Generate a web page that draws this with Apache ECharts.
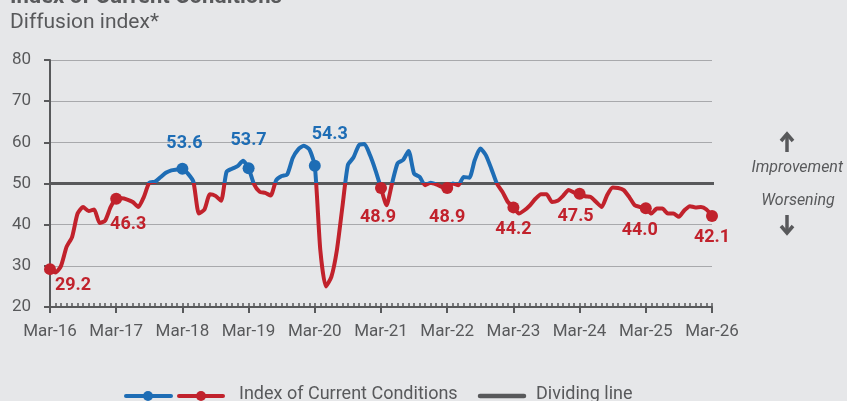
<!DOCTYPE html>
<html>
<head>
<meta charset="utf-8">
<script src="https://cdn.jsdelivr.net/npm/echarts@6/dist/echarts.min.js"></script>
<style>
  html, body { margin: 0; padding: 0; background: #e6e7e9; }
  #main { width: 847px; height: 401px; }
</style>
</head>
<body>
<div id="main"></div>
<script>
// monthly index, Mar-16 .. Mar-26
var indexValues = [
  29.2, 28.4, 30.0, 34.6, 37.0, 42.7, 44.3, 43.3, 43.7, 40.4, 41.0, 44.3,
  46.3, 46.4, 46.1, 45.5, 44.3, 46.7, 50.2, 50.4, 51.5, 52.6, 53.2, 53.4,
  53.6, 52.4, 50.4, 42.7, 43.7, 47.4, 47.0, 45.8, 52.8, 53.6, 54.2, 55.5,
  53.7, 49.8, 48.0, 47.7, 47.1, 50.8, 51.8, 52.2, 56.2, 58.3, 59.2, 58.3,
  54.3, 33.8, 25.0, 27.3, 33.8, 44.3, 54.5, 56.3, 59.3, 59.6, 56.9, 53.2,
  48.9, 44.7, 50.0, 54.9, 55.7, 57.9, 52.4, 51.6, 49.6, 50.2, 49.8, 49.2,
  48.9, 50.0, 49.6, 51.6, 51.4, 55.7, 58.5, 56.9, 53.6, 50.0, 48.0, 45.5,
  44.2, 42.7, 43.5, 44.7, 46.3, 47.4, 47.4, 45.5, 45.8, 47.0, 48.4, 47.8,
  47.5, 46.9, 46.7, 45.5, 44.3, 47.2, 49.0, 48.9, 48.4, 46.7, 44.7, 44.3,
  44.0, 42.7, 43.9, 43.9, 42.7, 42.7, 41.9, 43.5, 44.5, 44.2, 44.3, 43.7,
  42.1
];
var tickLabels = ['Mar-16', 'Mar-17', 'Mar-18', 'Mar-19', 'Mar-20', 'Mar-21',
  'Mar-22', 'Mar-23', 'Mar-24', 'Mar-25', 'Mar-26'];
var labelledMonths = [0, 12, 24, 36, 48, 60, 72, 84, 96, 108, 120];
var dividingValue = 50;

var BLUE = '#1e6db5';
var RED = '#c1222c';
var GREY = '#58595b';
var FONT = 'Roboto, "Noto Sans", sans-serif';

// label offsets (px) relative to the marker
var labelOffset = {
  0: [23, 16], 12: [12, 26], 24: [2, -25], 36: [0, -28], 48: [15, -31],
  60: [-3, 29], 72: [0, 29], 84: [0, 22], 96: [-4, 23], 108: [-6, 22], 120: [0, 21]
};
var dividerEnd = 138.7; // months, runs past the plot to the right

var seriesData = indexValues.map(function (v, i) {
  if (labelledMonths.indexOf(i) < 0) {
    return { value: [i, v], symbol: 'none' };
  }
  var c = v >= dividingValue ? BLUE : RED;
  return {
    value: [i, v],
    symbol: 'circle',
    symbolSize: 12,
    itemStyle: { color: c },
    label: {
      show: true,
      position: 'inside',
      offset: labelOffset[i],
      formatter: v.toFixed(1),
      color: c,
      fontWeight: 'bold',
      fontSize: 18,
      fontFamily: FONT
    }
  };
});

var chart = echarts.init(document.getElementById('main'));

var option = {
  backgroundColor: '#e6e7e9',
  animation: false,
  textStyle: { fontFamily: FONT },
  grid: { left: 50, right: 135, top: 60, bottom: 94 },
  xAxis: [
    {
      type: 'value', min: 0, max: 120, interval: 12,
      axisLine: { lineStyle: { color: GREY, width: 2 } },
      axisTick: { length: 6, lineStyle: { color: GREY, width: 2 } },
      axisLabel: {
        color: GREY, fontSize: 17, margin: 16,
        formatter: function (v) { return tickLabels[v / 12]; }
      },
      splitLine: { show: false }
    },
    {
      type: 'value', min: 0, max: 120, interval: 1, position: 'bottom',
      axisLine: { show: false },
      axisTick: { inside: true, length: 4, lineStyle: { color: GREY, width: 1.5 } },
      axisLabel: { show: false },
      splitLine: { show: false }
    }
  ],
  yAxis: {
    type: 'value', min: 20, max: 80, interval: 10,
    axisLine: { show: true, lineStyle: { color: GREY, width: 2 } },
    axisTick: { show: true, length: 6, lineStyle: { color: GREY, width: 2 } },
    axisLabel: { color: GREY, fontSize: 17, margin: 19 },
    splitLine: { lineStyle: { color: '#a8a9ac', width: 1 } }
  },
  visualMap: {
    type: 'piecewise', show: false, seriesIndex: 0, dimension: 1,
    pieces: [
      { gte: 0, lt: dividingValue, color: RED },
      { gte: dividingValue, lte: 100, color: BLUE }
    ]
  },
  series: [
    {
      name: 'Index of Current Conditions',
      type: 'line',
      data: seriesData,
      symbol: 'circle',
      showAllSymbol: true,
      smooth: 0.2,
      clip: false,
      z: 3,
      lineStyle: { width: 4, cap: 'round', join: 'round' }
    },
    {
      name: 'Dividing line',
      type: 'line',
      data: [[0, dividingValue], [dividerEnd, dividingValue]],
      symbol: 'none',
      clip: false,
      z: 2,
      lineStyle: { color: GREY, width: 3 }
    }
  ],
  graphic: [
    {
      type: 'text', left: 10, top: -14,
      style: { text: 'Index of Current Conditions', fill: GREY, font: 'bold 22px ' + FONT }
    },
    {
      type: 'text', left: 10, top: 12,
      style: { text: 'Diffusion index*', fill: GREY, font: '21px ' + FONT }
    },
    // arrows and annotations on the right
    {
      type: 'polyline', shape: { points: [[787, 152], [787, 136]] },
      style: { stroke: GREY, lineWidth: 3.5, fill: null }
    },
    {
      type: 'polyline', shape: { points: [[781, 141], [787, 134], [793, 141]] },
      style: { stroke: GREY, lineWidth: 3.5, fill: null, lineJoin: 'miter' }
    },
    {
      type: 'text', x: 843, y: 168,
      style: { text: 'Improvement', fill: GREY, font: 'italic 16px ' + FONT, align: 'right', verticalAlign: 'middle' }
    },
    {
      type: 'text', x: 798, y: 201,
      style: { text: 'Worsening', fill: GREY, font: 'italic 16px ' + FONT, align: 'center', verticalAlign: 'middle' }
    },
    {
      type: 'polyline', shape: { points: [[787, 215], [787, 231]] },
      style: { stroke: GREY, lineWidth: 3.5, fill: null }
    },
    {
      type: 'polyline', shape: { points: [[781, 226], [787, 233], [793, 226]] },
      style: { stroke: GREY, lineWidth: 3.5, fill: null, lineJoin: 'miter' }
    },
    // legend
    {
      type: 'line', shape: { x1: 126, y1: 396, x2: 171, y2: 396 },
      style: { stroke: BLUE, lineWidth: 4, lineCap: 'round' }
    },
    { type: 'circle', shape: { cx: 148, cy: 396, r: 5 }, style: { fill: BLUE } },
    {
      type: 'line', shape: { x1: 179, y1: 396, x2: 223, y2: 396 },
      style: { stroke: RED, lineWidth: 4, lineCap: 'round' }
    },
    { type: 'circle', shape: { cx: 201, cy: 396, r: 5 }, style: { fill: RED } },
    {
      type: 'text', x: 239, y: 394,
      style: { text: 'Index of Current Conditions', fill: GREY, font: '18px ' + FONT, verticalAlign: 'middle' }
    },
    {
      type: 'line', shape: { x1: 480, y1: 396, x2: 524, y2: 396 },
      style: { stroke: GREY, lineWidth: 4.5, lineCap: 'round' }
    },
    {
      type: 'text', x: 536, y: 394,
      style: { text: 'Dividing line', fill: GREY, font: '18px ' + FONT, verticalAlign: 'middle' }
    }
  ]
};

chart.setOption(option);
</script>
</body>
</html>
